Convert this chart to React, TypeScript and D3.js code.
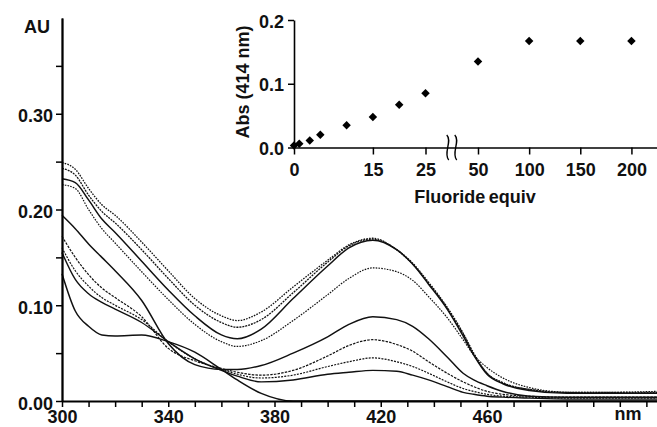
import React, { useRef, useEffect } from 'react';
import * as d3 from 'd3';

// wavelength grid (nm) shared by every spectrum
const wavelengths = [300, 305, 310, 315, 320, 330, 340, 350, 360, 366, 375, 387, 400, 408, 417, 426, 432, 438, 445, 451, 455, 460, 466, 476, 490, 505, 524];

// absorbance (AU) for each titration step
const free = [0.133, 0.094, 0.078, 0.069, 0.068, 0.069, 0.062, 0.051, 0.033, 0.022, 0.008, 0.0, 0.0, 0.0, 0.0, 0.0, 0.0, 0.0, 0.0, 0.0, 0.0, 0.0, 0.0, 0.0, 0.0, 0.0, 0.0];
const eq10 = [0.155, 0.127, 0.112, 0.103, 0.096, 0.082, 0.062, 0.044, 0.032, 0.026, 0.020, 0.022, 0.028, 0.030, 0.032, 0.031, 0.027, 0.022, 0.015, 0.009, 0.007, 0.005, 0.004, 0.003, 0.002, 0.002, 0.002];
const eq15 = [0.160, 0.136, 0.120, 0.108, 0.100, 0.085, 0.062, 0.044, 0.033, 0.028, 0.024, 0.027, 0.036, 0.041, 0.045, 0.041, 0.036, 0.029, 0.020, 0.013, 0.010, 0.007, 0.005, 0.004, 0.003, 0.003, 0.003];
const eq20 = [0.172, 0.150, 0.132, 0.118, 0.108, 0.088, 0.055, 0.042, 0.034, 0.030, 0.027, 0.032, 0.047, 0.058, 0.064, 0.059, 0.052, 0.041, 0.029, 0.020, 0.015, 0.010, 0.007, 0.005, 0.004, 0.004, 0.004];
const eq25 = [0.194, 0.180, 0.164, 0.150, 0.136, 0.105, 0.060, 0.038, 0.033, 0.033, 0.037, 0.050, 0.067, 0.080, 0.088, 0.085, 0.078, 0.065, 0.046, 0.029, 0.022, 0.016, 0.010, 0.005, 0.004, 0.004, 0.004];
const eq50 = [0.226, 0.222, 0.200, 0.180, 0.165, 0.135, 0.106, 0.080, 0.062, 0.057, 0.063, 0.084, 0.111, 0.128, 0.139, 0.135, 0.126, 0.109, 0.087, 0.064, 0.048, 0.035, 0.024, 0.014, 0.009, 0.008, 0.008];
const eq100 = [0.232, 0.228, 0.210, 0.190, 0.176, 0.146, 0.116, 0.089, 0.069, 0.065, 0.075, 0.107, 0.141, 0.160, 0.168, 0.158, 0.143, 0.122, 0.096, 0.068, 0.048, 0.028, 0.018, 0.011, 0.008, 0.008, 0.008];
const eq150 = [0.243, 0.236, 0.215, 0.198, 0.186, 0.158, 0.128, 0.100, 0.082, 0.077, 0.085, 0.113, 0.145, 0.162, 0.169, 0.158, 0.143, 0.123, 0.097, 0.070, 0.049, 0.029, 0.019, 0.012, 0.009, 0.009, 0.009];
const eq200 = [0.249, 0.242, 0.222, 0.205, 0.194, 0.166, 0.136, 0.107, 0.089, 0.084, 0.093, 0.119, 0.147, 0.163, 0.170, 0.158, 0.144, 0.124, 0.098, 0.071, 0.050, 0.029, 0.019, 0.012, 0.009, 0.009, 0.010];

// main axis ticks
const xTicks = d3.range(300, 521, 10);
const xTickLabels = [300, 340, 380, 420, 460];
const yTickLabels = [0, 0.1, 0.2, 0.3];
const yMinorTicks = [0.05, 0.15, 0.25, 0.35];

// inset: absorbance at 414 nm vs fluoride equivalents
const equiv = [0, 1, 3, 5, 10, 15, 20, 25, 50, 100, 150, 200];
const abs414 = [0.003, 0.006, 0.011, 0.020, 0.035, 0.048, 0.067, 0.085, 0.135, 0.167, 0.167, 0.167];
const insetXTicks = [0, 15, 25, 50, 100, 150, 200];
const insetYTicks = [0, 0.1, 0.2];

const App = () => {
    const svgRef = useRef<SVGSVGElement>(null);

    useEffect(() => {
        document.body.style.margin = '0';
        const width = 657;
        const height = 427;
        const font = '"Liberation Sans", Arial, Helvetica, sans-serif';

        const svg = d3.select(svgRef.current)
            .attr('width', width)
            .attr('height', height)
            .style('display', 'block')
            .style('background', '#fff');

        svg.selectAll('*').remove();

        // scales of the main chart
        const x = d3.scaleLinear().domain([300, 524]).range([62, 657]);
        const y = d3.scaleLinear().domain([0, 0.4]).range([401, 18]);

        const line = d3.line<number>()
            .x((d, i) => x(wavelengths[i]))
            .y(d => y(d))
            .curve(d3.curveMonotoneX);

        const series = [
            { values: free, dash: null, w: 1.5 },
            { values: eq10, dash: null, w: 1.4 },
            { values: eq15, dash: '2,1.2', w: 1.2 },
            { values: eq20, dash: '2.5,1.2', w: 1.2 },
            { values: eq25, dash: null, w: 1.5 },
            { values: eq50, dash: '1.6,1.2', w: 1.2 },
            { values: eq100, dash: null, w: 1.5 },
            { values: eq150, dash: '2,1', w: 1.3 },
            { values: eq200, dash: '1.6,1.2', w: 1.3 }
        ];

        // spectra
        svg.append('g')
            .selectAll('path')
            .data(series)
            .enter()
            .append('path')
            .attr('d', d => line(d.values))
            .attr('fill', 'none')
            .attr('stroke', '#111')
            .attr('stroke-width', d => d.w)
            .attr('stroke-dasharray', d => d.dash);

        const styleAxis = (g, size) => {
            g.attr('font-family', font)
                .attr('font-size', size)
                .attr('font-weight', 'bold');
            g.select('.domain').attr('stroke', '#000').attr('stroke-width', 1.8);
            g.selectAll('.tick line').attr('stroke', '#000').attr('stroke-width', 1.5);
            g.selectAll('.tick text').attr('fill', '#111');
        };

        // x axis
        svg.append('g')
            .attr('transform', `translate(0,${y(0)})`)
            .call(d3.axisBottom(x)
                .tickValues(xTicks)
                .tickSize(6)
                .tickSizeOuter(0)
                .tickPadding(3)
                .tickFormat(d => (xTickLabels.includes(+d) ? String(d) : '')))
            .call(g => styleAxis(g, 18));

        // y axis (minor then labelled ticks)
        svg.append('g')
            .attr('transform', `translate(${x(300)},0)`)
            .call(d3.axisLeft(y).tickValues(yMinorTicks).tickSize(6).tickSizeOuter(0).tickFormat(() => ''))
            .call(g => styleAxis(g, 18));

        svg.append('g')
            .attr('transform', `translate(${x(300)},0)`)
            .call(d3.axisLeft(y).tickValues(yTickLabels).tickSize(6).tickSizeOuter(0).tickPadding(3).tickFormat(d3.format('.2f')))
            .call(g => styleAxis(g, 18))
            .call(g => g.selectAll('.tick text').attr('dy', '0.45em'));

        svg.append('text')
            .attr('x', 24)
            .attr('y', 33)
            .text('AU')
            .attr('font-family', font)
            .attr('font-size', 18)
            .attr('font-weight', 'bold')
            .attr('fill', '#111');

        svg.append('text')
            .attr('x', 628)
            .attr('y', 420)
            .attr('text-anchor', 'middle')
            .text('nm')
            .attr('font-family', font)
            .attr('font-size', 18)
            .attr('font-weight', 'bold')
            .attr('fill', '#111');

        // inset with a broken x axis
        const ix = d3.scaleLinear().domain([0, 25, 50, 225]).range([294, 425.5, 478, 657]);
        const iy = d3.scaleLinear().domain([0, 0.2]).range([147.5, 20]);

        svg.append('g')
            .attr('transform', `translate(0,${iy(0)})`)
            .call(d3.axisBottom(ix)
                .tickValues(insetXTicks)
                .tickSize(7)
                .tickSizeOuter(0)
                .tickPadding(9)
                .tickFormat(d3.format('d')))
            .call(g => styleAxis(g, 18))
            .call(g => g.select('.domain').attr('stroke-width', 1.6));

        svg.append('g')
            .attr('transform', `translate(${ix(0)},0)`)
            .call(d3.axisLeft(iy)
                .tickValues(insetYTicks)
                .tickSize(6)
                .tickSizeOuter(0)
                .tickPadding(4)
                .tickFormat(d3.format('.1f')))
            .call(g => styleAxis(g, 18))
            .call(g => g.select('.domain').attr('stroke-width', 1.6))
            .call(g => g.selectAll('.tick text').attr('dy', '0.4em'));

        // axis break marks
        const bx = ix(37.5);
        [-4, 4].forEach(off => {
            const p = d3.path();
            p.moveTo(bx + off - 1, 135);
            p.bezierCurveTo(bx + off + 5, 141, bx + off - 5, 153, bx + off + 1, 160);
            svg.append('path')
                .attr('d', p.toString())
                .attr('fill', 'none')
                .attr('stroke', '#000')
                .attr('stroke-width', 1.4);
        });

        // inset points
        svg.append('g')
            .selectAll('path')
            .data(equiv)
            .enter()
            .append('path')
            .attr('d', d3.symbol(d3.symbolSquare, 36))
            .attr('transform', (d, i) => `translate(${ix(d)},${iy(abs414[i])}) rotate(45)`)
            .attr('fill', '#000');

        svg.append('text')
            .attr('transform', `translate(249,82) rotate(-90)`)
            .attr('text-anchor', 'middle')
            .text('Abs (414 nm)')
            .attr('font-family', font)
            .attr('font-size', 18)
            .attr('font-weight', 'bold')
            .attr('fill', '#111');

        svg.append('text')
            .attr('x', 475)
            .attr('y', 203)
            .attr('text-anchor', 'middle')
            .text('Fluoride equiv')
            .attr('font-family', font)
            .attr('font-size', 18)
            .attr('font-weight', 'bold')
            .attr('word-spacing', -1.5)
            .attr('fill', '#111');
    }, []);

    return <svg ref={svgRef}></svg>;
};

export default App;
